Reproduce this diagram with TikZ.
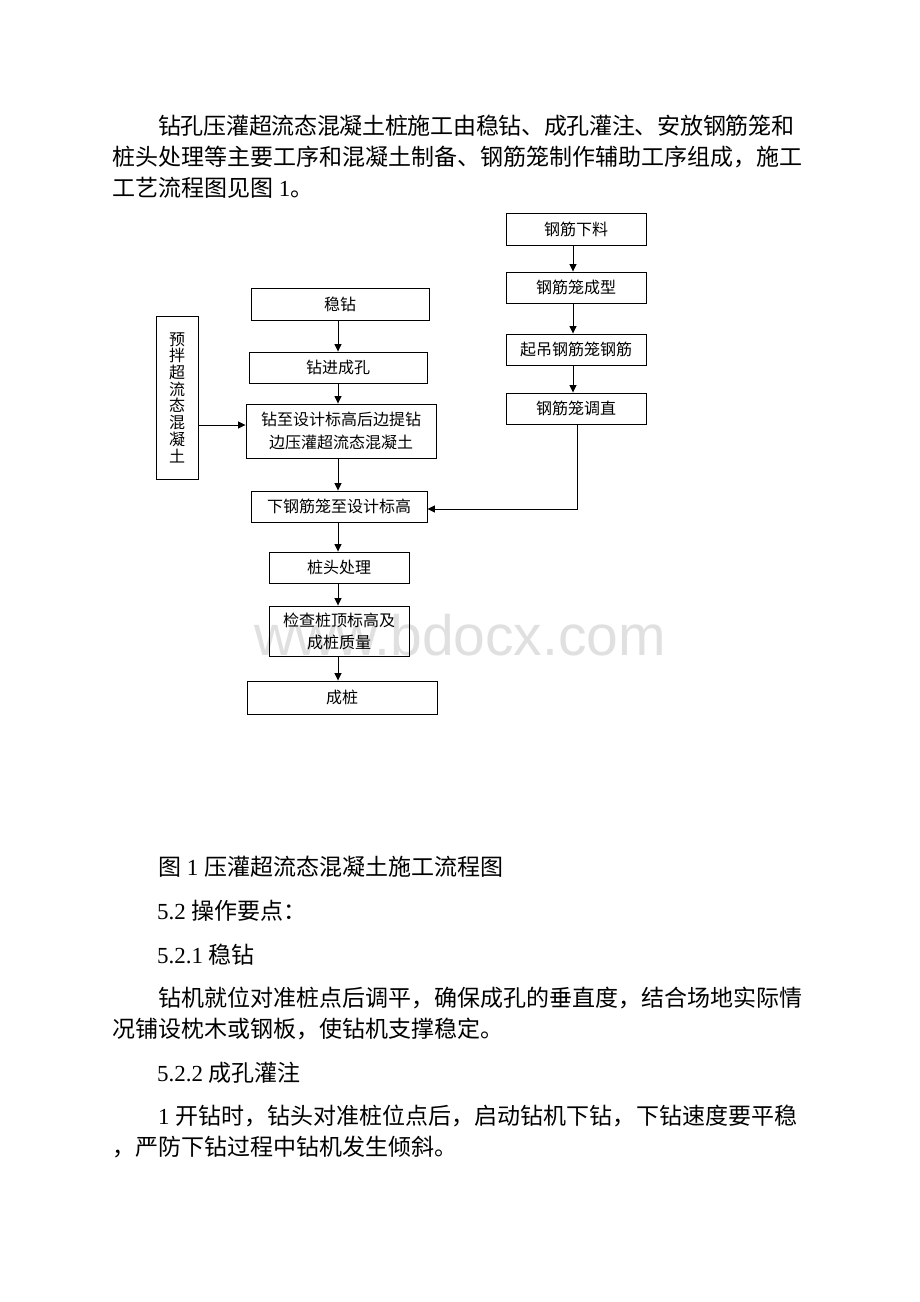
\documentclass[tikz,border=0pt]{standalone}
\usepackage{fontspec}
\setmainfont{Liberation Serif}
\newfontfamily\cjk{Noto Sans CJK SC}
\newfontfamily\wmfont{Liberation Sans}
\usetikzlibrary{arrows.meta}
\XeTeXinterchartokenstate=1
\newcount\zhc
\zhc="4E00
\loop\XeTeXcharclass\zhc=7 \ifnum\zhc<"9FA5 \advance\zhc by 1 \repeat
\XeTeXcharclass"FF0C=7 \XeTeXcharclass"3001=7 \XeTeXcharclass"3002=7 \XeTeXcharclass"FF1A=7
\XeTeXinterchartoks 7 7 = {\hskip 0pt plus 3pt minus 1pt}
\begin{document}
\begin{tikzpicture}[x=1pt,y=-1pt,
  box/.style={draw=black, line width=0.9pt, inner sep=0pt, align=center,
    font=\cjk\fontsize{16}{23}\selectfont},
  arr/.style={-{Triangle[length=7.5pt,width=7pt]}, line width=0.9pt},
  para/.style={anchor=base west, inner sep=0pt, font=\fontsize{23}{31}\selectfont},
  wm/.style={anchor=base west, inner sep=0pt, text=black!12, font=\wmfont\fontsize{57}{57}\selectfont}]
\useasboundingbox (0,0) rectangle (920,1302);
\fill[white] (0,0) rectangle (920,1302);

% watermark
\node[wm] (wmk) at (254,655) {www.bdocx.com};

% paragraph text
\node[para] (p1) at (158,134) {\makebox[636pt][s]{\cjk 钻孔压灌超流态混凝土桩施工由稳钻、成孔灌注、安放钢筋笼和}};
\node[para] (p2) at (112,165) {\makebox[690pt][s]{\cjk 桩头处理等主要工序和混凝土制备、钢筋笼制作辅助工序组成，施工}};
\node[para] (p3) at (112,196) {{\cjk 工艺流程图见图} 1{\cjk 。}};

% right column
\node[box, minimum width=140pt, minimum height=32pt] (r1) at (576,229) {钢筋下料};
\node[box, minimum width=140pt, minimum height=31pt] (r2) at (576,287.5) {钢筋笼成型};
\node[box, minimum width=140pt, minimum height=31pt] (r3) at (576,349.5) {起吊钢筋笼钢筋};
\node[box, minimum width=140pt, minimum height=31pt] (r4) at (576,408.5) {钢筋笼调直};

% left column
\node[box, minimum width=178pt, minimum height=32pt] (s1) at (340,304) {稳钻};
\node[box, minimum width=178pt, minimum height=31pt] (s2) at (338,367.5) {钻进成孔};
\node[box, minimum width=190pt, minimum height=54pt] (s3) at (341,431) {钻至设计标高后边提钻\\边压灌超流态混凝土};
\node[box, minimum width=176pt, minimum height=31pt] (s4) at (339,506.5) {下钢筋笼至设计标高};
\node[box, minimum width=140pt, minimum height=31pt] (s5) at (339,567.5) {桩头处理};
\node[box, minimum width=140pt, minimum height=50pt, font=\cjk\fontsize{16}{22}\selectfont] (s6) at (339,631) {检查桩顶标高及\\成桩质量};
\node[box, minimum width=190pt, minimum height=33pt] (s7) at (342,697.5) {成桩};

% mixing box
\node[box, minimum width=42pt, minimum height=163pt, font=\cjk\fontsize{16}{16.7}\selectfont] (m) at (177,397.5) {预\\拌\\超\\流\\态\\混\\凝\\土};

% connectors
\coordinate (ax) at (338,0);
\coordinate (bx) at (573,0);
\draw[arr] (s1.south -| ax) -- (s2.north -| ax);
\draw[arr] (s2.south -| ax) -- (s3.north -| ax);
\draw[arr] (s3.south -| ax) -- (s4.north -| ax);
\draw[arr] (s4.south -| ax) -- (s5.north -| ax);
\draw[arr] (s5.south -| ax) -- (s6.north -| ax);
\draw[arr] (s6.south -| ax) -- (s7.north -| ax);
\draw[arr] (r1.south -| bx) -- (r2.north -| bx);
\draw[arr] (r2.south -| bx) -- (r3.north -| bx);
\draw[arr] (r3.south -| bx) -- (r4.north -| bx);
\draw[arr] ([xshift=1pt]r4.south) |- ([yshift=-2.5pt]s4.east);
\draw[arr] ([yshift=-27.5pt]m.east) -- ([yshift=-27.5pt]m.east -| s3.west);

% lower text
\node[para] (c1) at (158,875) {{\cjk 图} 1 {\cjk 压灌超流态混凝土施工流程图}};
\node[para] (c2) at (157,919) {5.2 {\cjk 操作要点：}};
\node[para] (c3) at (157,963) {5.2.1 {\cjk 稳钻}};
\node[para] (c4) at (158,1006) {\makebox[644pt][s]{\cjk 钻机就位对准桩点后调平，确保成孔的垂直度，结合场地实际情}};
\node[para] (c5) at (112,1037) {{\cjk 况铺设枕木或钢板，使钻机支撑稳定。}};
\node[para] (c6) at (157,1081) {5.2.2 {\cjk 成孔灌注}};
\node[para] (c7) at (158,1124) {\makebox[639pt][s]{1 {\cjk 开钻时，钻头对准桩位点后，启动钻机下钻，下钻速度要平稳}}};
\node[para] (c8) at (112,1155) {{\cjk ，严防下钻过程中钻机发生倾斜。}};
\end{tikzpicture}
\end{document}
